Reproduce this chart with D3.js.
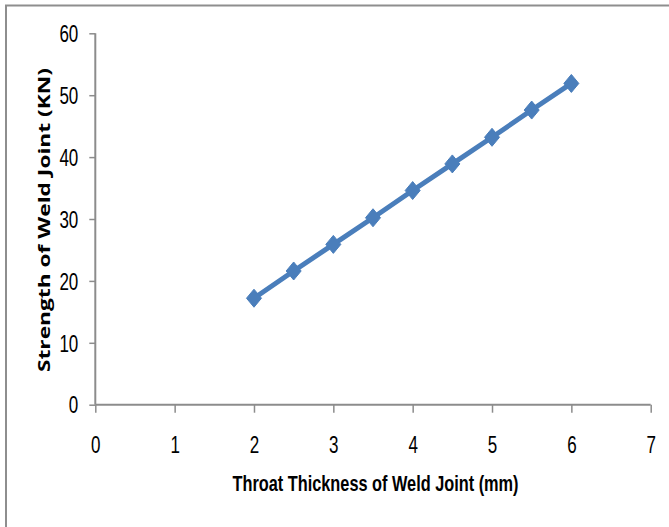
<!DOCTYPE html>
<html><head><meta charset="utf-8">
<script src="https://cdn.jsdelivr.net/npm/d3@7"></script>
<style>html,body{margin:0;padding:0;background:#fff;overflow:hidden}</style>
</head><body>
<script>
const thickness = [2, 2.5, 3, 3.5, 4, 4.5, 5, 5.5, 6];
const strength = [17.2, 21.6, 25.9, 30.2, 34.6, 38.9, 43.2, 47.6, 51.9];
const xTicks = [0, 1, 2, 3, 4, 5, 6, 7];
const yTicks = [0, 10, 20, 30, 40, 50, 60];
const xTitle = "Throat Thickness of Weld Joint (mm)";
const yTitle = "Strength of Weld Joint  (KN)";

const W = 669, H = 527;
const svg = d3.select("body").append("svg").attr("width", W).attr("height", H);
svg.append("rect").attr("width", W).attr("height", H).attr("fill", "#fff");
// chart border (extends beyond right/bottom)
svg.append("rect").attr("x", 6).attr("y", 5.5).attr("width", 700).attr("height", 600)
  .attr("fill", "none").attr("stroke", "#8e8e8e").attr("stroke-width", 2);

const x = d3.scaleLinear().domain([0, 7]).range([95.3, 650.7]);
const y = d3.scaleLinear().domain([0, 60]).range([404.7, 33.3]);

const font = "'Liberation Sans','Arial',sans-serif";
const sx = 0.74;

const xAxis = svg.append("g").attr("transform", `translate(0,${y(0)})`)
  .call(d3.axisBottom(x).tickValues(xTicks).tickSize(8).tickPadding(24).tickFormat(d3.format("d")));
const yAxis = svg.append("g").attr("transform", `translate(${x(0)},0)`)
  .call(d3.axisLeft(y).tickValues(yTicks).tickSize(6).tickPadding(11).tickFormat(d3.format("d")));
[xAxis, yAxis].forEach(g => {
  g.select(".domain").attr("stroke", "#8c8c8c").attr("stroke-width", 2);
  g.selectAll(".tick line").attr("stroke", "#8c8c8c").attr("stroke-width", 1.5);
  g.selectAll(".tick text").attr("fill", "#000").style("font-family", font).style("font-size", "23px")
    .attr("transform", `scale(${sx},1)`);
});
xAxis.select(".domain").attr("d", `M${x(0)},0H${x(7)}`);
yAxis.select(".domain").attr("d", `M0,${y(60)}V${y(0)}`);
yAxis.selectAll(".tick line").attr("x1", 0).attr("x2", -6);
yAxis.selectAll(".tick text").attr("x", -17 / sx).attr("dy", "0.36em");

const data = thickness.map((t, i) => ({t, s: strength[i]}));
const col = "#4a7ebb";
svg.append("path").datum(data)
  .attr("d", d3.line().x(d => x(d.t)).y(d => y(d.s)))
  .attr("fill", "none").attr("stroke", col).attr("stroke-width", 5).attr("stroke-linejoin", "round");
svg.append("g").selectAll("path").data(data).join("path")
  .attr("transform", d => `translate(${x(d.t)},${y(d.s)})`)
  .attr("d", "M0,-9L7.5,0L0,9L-7.5,0Z")
  .attr("fill", col).attr("stroke", col).attr("stroke-width", 1);

svg.append("text").attr("x", 375.5).attr("y", 491)
  .attr("text-anchor", "middle").style("font-family", font).style("font-weight", "bold")
  .style("font-size", "22px").attr("textLength", 286).attr("lengthAdjust", "spacingAndGlyphs")
  .text(xTitle);

svg.append("text").attr("transform", "translate(49.5,220) rotate(-90)")
  .attr("text-anchor", "middle").style("font-family", "'Open Sans','DejaVu Sans',sans-serif").style("font-weight", "bold")
  .style("font-size", "15.5px").attr("textLength", 304).attr("lengthAdjust", "spacingAndGlyphs")
  .text(yTitle);
</script>
</body></html>
